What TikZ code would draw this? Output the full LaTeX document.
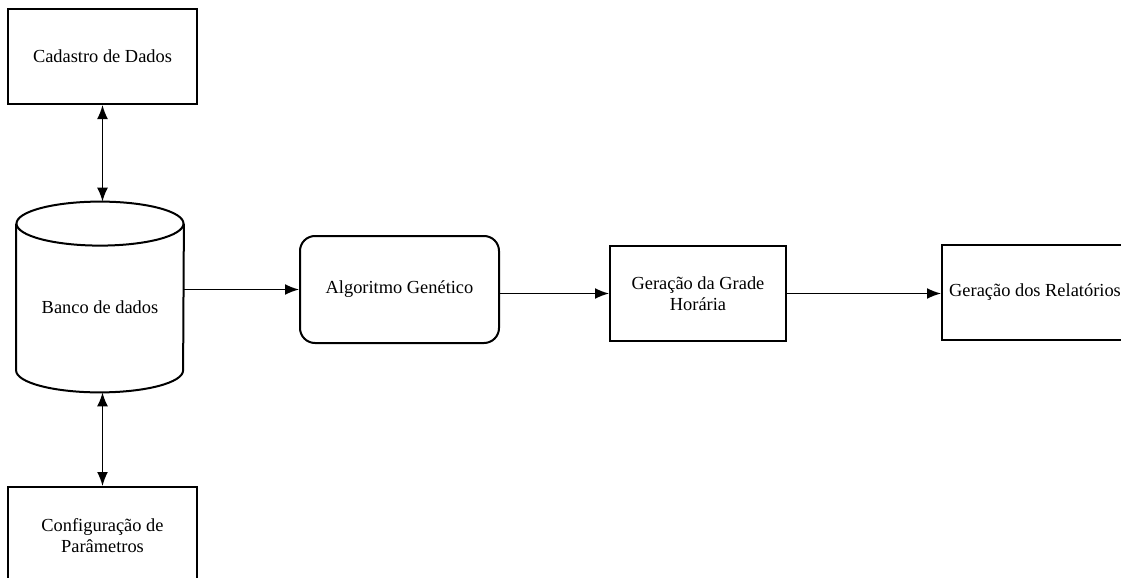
\documentclass[tikz,border=0pt]{standalone}
\usepackage{fontspec}
\setmainfont{Liberation Serif}
\usetikzlibrary{arrows.meta}
\tikzset{
    txt/.style={font=\fontsize{9.2}{10.5}\selectfont, align=center},
    caixa/.style={txt, draw, line width=1pt, inner sep=0pt},
    caixaR/.style={caixa, rounded corners=7.5pt},
    seta/.style={line width=0.8pt, -{Latex[length=7pt,width=5.5pt]}},
    setaD/.style={line width=0.8pt, {Latex[length=7pt,width=5.5pt]}-{Latex[length=7pt,width=5.5pt]}}
}

\begin{document}
\begin{tikzpicture}[x=0.5pt, y=-0.5pt]
    \useasboundingbox (0,0) rectangle (1121,578);

    % Cadastro
    \node[caixa, minimum width=94.5pt, minimum height=47.5pt] (cad) at (102.5,56.5) {Cadastro de Dados};

    % Banco de dados (cilindro)
    \node[inner sep=0pt, minimum width=83.5pt, minimum height=95pt] (db) at (100,297) {};
    \draw[line width=1pt] ([yshift=-11pt]db.north) ellipse [x radius=41.75pt, y radius=11pt];
    \draw[line width=1pt] ([yshift=-11pt]db.north west) -- ([yshift=11pt]db.south west)
        arc[start angle=180, end angle=360, x radius=41.75pt, y radius=11pt] -- ([yshift=-11pt]db.north east);
    \node[txt] (dbtxt) at ([yshift=-5pt]db.center) {Banco de dados};

    % Configuracao
    \node[caixa, minimum width=94.5pt, minimum height=49pt] (cfg) at (102.5,536) {Configuração de\\Parâmetros};

    % Processo
    \node[caixaR, minimum width=99.5pt, minimum height=53.5pt] (alg) at (399.5,289.5) {Algoritmo Genético};
    \node[caixa, minimum width=88pt, minimum height=47.5pt] (grade) at (698,293.5) {Geração da Grade\\Horária};
    \node[caixa, minimum width=93pt, minimum height=47.5pt] (rel) at (1035,292.5) {Geração dos Relatórios};

    % Setas
    \draw[setaD] (cad.south) -- (cad.south |- db.north);
    \draw[setaD] (cad.south |- db.south) -- (cfg.north);
    \draw[seta] (db.east |- alg.west) -- (alg.west);
    \draw[seta] (alg.east |- grade.west) -- (grade.west);
    \draw[seta] (grade.east) -- (grade.east -| rel.west);
\end{tikzpicture}
\end{document}
